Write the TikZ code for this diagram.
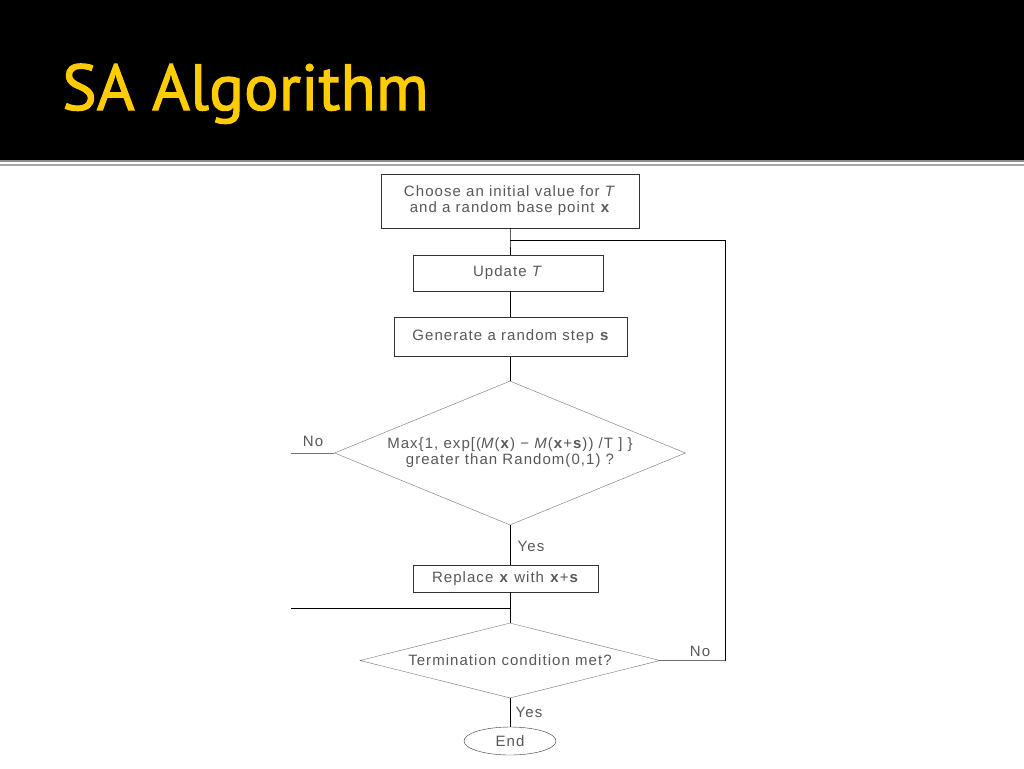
\documentclass[tikz,border=0pt]{standalone}
\usepackage{fontspec}
\setmainfont{Liberation Sans}[LetterSpace=7]
\newfontfamily\titlefont{PT Sans}[FakeBold=1.6]
\usepackage{xcolor}
\usetikzlibrary{positioning, shapes.geometric}
\definecolor{titleyellow}{HTML}{FFCC00}
\definecolor{txtgray}{HTML}{585858}
\tikzset{
  blk/.style={draw=black!80, rectangle, align=center, inner sep=0pt,
              text=txtgray, font=\fontsize{15}{16}\selectfont},
  dec/.style={draw=black!55, diamond, align=center, inner sep=0pt,
              text=txtgray, font=\fontsize{15}{16}\selectfont},
  term/.style={draw=black!80, ellipse, inner sep=0pt,
               text=txtgray, font=\fontsize{15}{16}\selectfont},
  flow/.style={draw=black, line width=1pt},
  side/.style={draw=black!55, line width=1pt},
  lbl/.style={text=txtgray, font=\fontsize{15}{16}\selectfont, inner sep=0pt}
}

\begin{document}
\begin{tikzpicture}[x=1pt, y=-1pt]
  \useasboundingbox (0,0) rectangle (1024,768);
  % header band
  \fill[black] (0,0) rectangle (1024,160);
  \fill[black!45] (0,160) rectangle (1024,162);
  \draw[black!35, line width=2pt] (0,165) -- (1024,165);
  \node[anchor=base west, inner sep=0pt, text=titleyellow,
        font=\titlefont\fontsize{65}{70}\selectfont] (title) at (62,110) {SA Algorithm};

  % flowchart
  \node[blk, minimum width=258, minimum height=54] (init) at (510,201)
    {Choose an initial value for \textit{T}\\and a random base point \textbf{x}};
  \node[blk, minimum width=190, minimum height=36] (upd) at (508,273) {Update \textit{T}};
  \node[blk, minimum width=233, minimum height=39] (gen) at (511,337)
    {Generate a random step \textbf{s}};
  \node[dec, aspect=2.4375, minimum width=351, minimum height=144] (acc) at (510,453)
    {Max\{1, exp[(\textit{M}(\textbf{x}) − \textit{M}(\textbf{x}+\textbf{s})) /T ] \}\\greater than Random(0,1) ?};
  \node[blk, minimum width=185, minimum height=27] (rep) at (505.5,578.5)
    {Replace \textbf{x} with \textbf{x}+\textbf{s}};
  \node[dec, aspect=4, minimum width=300, minimum height=75] (stop) at (510,660.5)
    {Termination condition met?};
  \node[term, minimum width=92, minimum height=28] (fin) at (510,741) {End};

  \coordinate (loopIn) at (510,240);
  \coordinate (loopR) at (725,240);
  \coordinate (noL) at (291,453);
  \coordinate (backJ) at (510,608);
  \coordinate (backL) at (291,608);

  \draw[flow] (init.south) -- (loopIn) -- (loopIn |- upd.north);
  \draw[flow] (loopIn |- upd.south) -- (loopIn |- gen.north);
  \draw[flow] (loopIn |- gen.south) -- (acc.north);
  \draw[flow] (acc.south) -- (acc.south |- rep.north);
  \draw[flow] (acc.south |- rep.south) -- (stop.north);
  \draw[flow] (stop.south) -- (fin.north);
  \draw[flow] (loopIn) -- (loopR) -- (loopR |- stop.east);
  \draw[side] (stop.east) -- (loopR |- stop.east);
  \draw[side] (acc.west) -- (noL);
  \draw[flow] (backL) -- (backJ);

  \node[lbl] (noA) at (313,441) {No};
  \node[lbl] (yesA) at (531,546) {Yes};
  \node[lbl] (noB) at (700,651) {No};
  \node[lbl] (yesB) at (529,712) {Yes};
\end{tikzpicture}
\end{document}
